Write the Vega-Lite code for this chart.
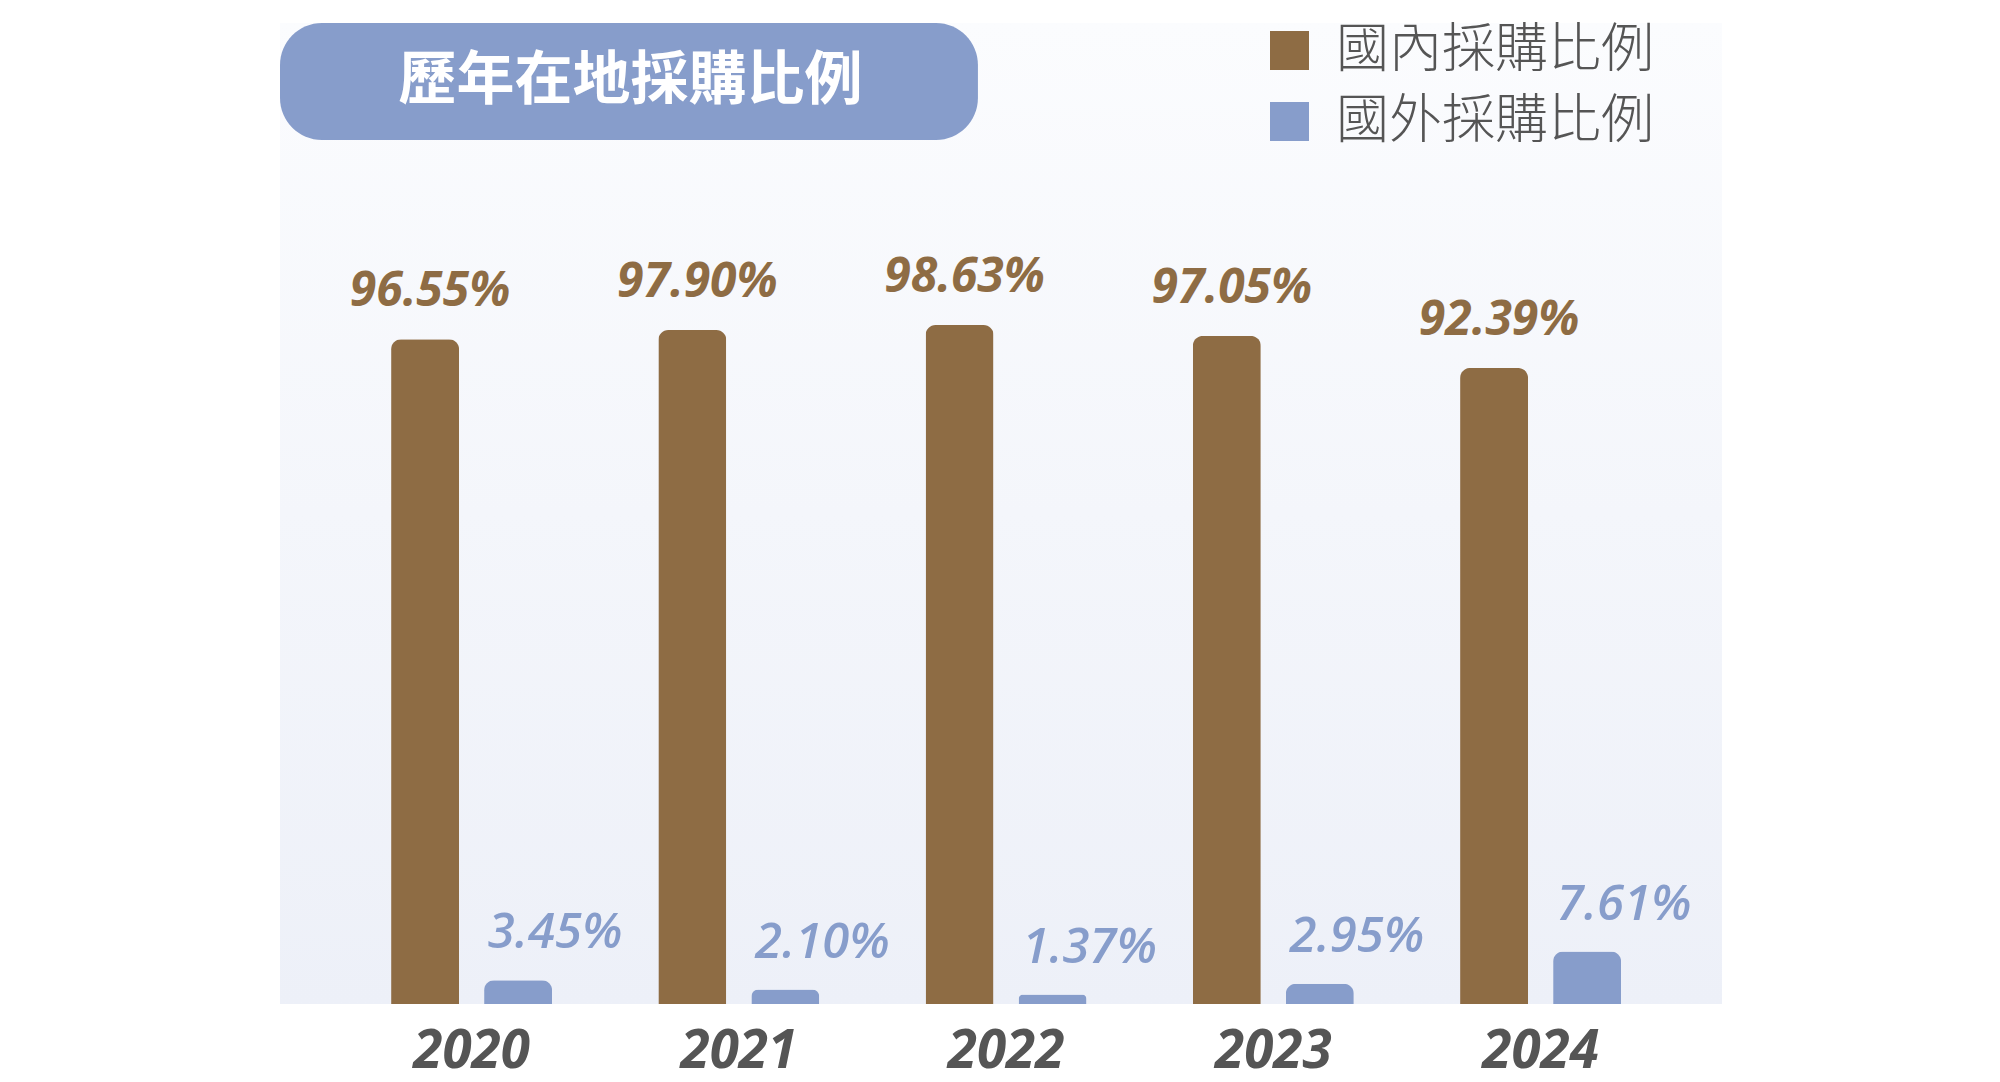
{
  "$schema": "https://vega.github.io/schema/vega-lite/v6.json",
  "width": 1442,
  "height": 981,
  "autosize": {"type": "none"},
  "padding": {"left": 280, "top": 23, "right": 278, "bottom": 78},
  "background": "#ffffff",
  "view": {
    "stroke": null,
    "fill": {
      "gradient": "linear",
      "x1": 0, "y1": 0, "x2": 0, "y2": 1,
      "stops": [
        {"offset": 0, "color": "#fbfcfe"},
        {"offset": 1, "color": "#edf0f8"}
      ]
    }
  },
  "datasets": {
    "purchase": [
      {"year": "2020", "series": "國內採購比例", "pct": 0.9655},
      {"year": "2020", "series": "國外採購比例", "pct": 0.0345},
      {"year": "2021", "series": "國內採購比例", "pct": 0.9790},
      {"year": "2021", "series": "國外採購比例", "pct": 0.0210},
      {"year": "2022", "series": "國內採購比例", "pct": 0.9863},
      {"year": "2022", "series": "國外採購比例", "pct": 0.0137},
      {"year": "2023", "series": "國內採購比例", "pct": 0.9705},
      {"year": "2023", "series": "國外採購比例", "pct": 0.0295},
      {"year": "2024", "series": "國內採購比例", "pct": 0.9239},
      {"year": "2024", "series": "國外採購比例", "pct": 0.0761}
    ],
    "heading": [{"label": "歷年在地採購比例"}]
  },
  "layer": [
    {
      "data": {"name": "purchase"},
      "encoding": {
        "x": {
          "field": "year",
          "type": "nominal",
          "scale": {"paddingInner": 0.3976, "paddingOuter": 0.3966, "align": 0.524},
          "axis": {
            "title": null,
            "domain": false,
            "ticks": false,
            "grid": false,
            "labelAngle": 0,
            "labelFont": "Open Sans",
            "labelFontSize": 53,
            "labelFontWeight": "bold",
            "labelFontStyle": "italic",
            "labelColor": "#555555",
            "labelBaseline": "alphabetic",
            "labelPadding": 63
          }
        },
        "xOffset": {
          "field": "series",
          "type": "nominal",
          "scale": {"domain": ["國內採購比例", "國外採購比例"], "paddingInner": 0.269, "paddingOuter": 0}
        },
        "y": {
          "field": "pct",
          "type": "quantitative",
          "scale": {"domain": [0, 1.425], "nice": false},
          "axis": null
        }
      },
      "layer": [
        {
          "mark": {"type": "bar", "cornerRadiusTopLeft": 10, "cornerRadiusTopRight": 10},
          "encoding": {
            "color": {
              "field": "series",
              "type": "nominal",
              "scale": {"domain": ["國內採購比例", "國外採購比例"], "range": ["#8e6c44", "#879dcb"]},
              "legend": {
                "orient": "none",
                "legendX": 983,
                "legendY": 1,
                "direction": "vertical",
                "title": null,
                "symbolType": "square",
                "symbolSize": 1521,
                "symbolStrokeWidth": 0,
                "symbolOpacity": 1,
                "labelFont": "Noto Sans CJK TC",
                "labelFontSize": 53,
                "labelFontWeight": 300,
                "labelColor": "#555555",
                "labelOffset": 20,
                "labelLimit": 600,
                "rowPadding": 17,
                "padding": 0
              }
            }
          }
        },
        {
          "transform": [{"filter": "datum.series === '國內採購比例'"}],
          "mark": {
            "type": "text",
            "font": "Open Sans",
            "fontSize": 48,
            "fontWeight": "bold",
            "fontStyle": "italic",
            "color": "#8e6c44",
            "baseline": "alphabetic",
            "dx": 5,
            "dy": -33
          },
          "encoding": {"text": {"field": "pct", "type": "quantitative", "format": ".2%"}}
        },
        {
          "transform": [{"filter": "datum.series === '國外採購比例'"}],
          "mark": {
            "type": "text",
            "font": "Open Sans",
            "fontSize": 49,
            "fontWeight": 600,
            "fontStyle": "italic",
            "color": "#879dcb",
            "baseline": "alphabetic",
            "dx": 37,
            "dy": -32
          },
          "encoding": {"text": {"field": "pct", "type": "quantitative", "format": ".2%"}}
        }
      ]
    },
    {
      "data": {"name": "heading"},
      "layer": [
        {
          "mark": {"type": "rect", "color": "#879dcb", "cornerRadius": 42},
          "encoding": {
            "x": {"datum": 0, "type": "quantitative", "scale": {"domain": [0, 100], "nice": false, "zero": false}, "axis": null},
            "x2": {"datum": 48.4},
            "y": {"datum": 1.425, "type": "quantitative"},
            "y2": {"datum": 1.255}
          }
        },
        {
          "mark": {
            "type": "text",
            "font": "Noto Sans CJK TC",
            "fontSize": 58,
            "fontWeight": "bold",
            "color": "#ffffff",
            "baseline": "middle",
            "align": "center"
          },
          "encoding": {
            "x": {"datum": 24.3, "type": "quantitative"},
            "y": {"datum": 1.339, "type": "quantitative"},
            "text": {"field": "label", "type": "nominal"}
          }
        }
      ]
    }
  ],
  "resolve": {"scale": {"x": "independent"}}
}
